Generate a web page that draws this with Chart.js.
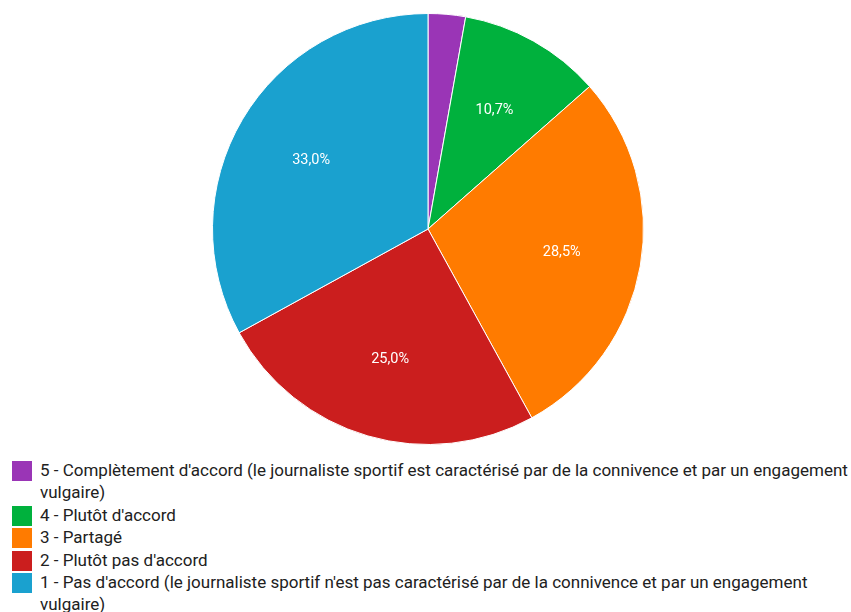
<!DOCTYPE html>
<html>
<head>
<meta charset="utf-8">
<script src="https://cdn.jsdelivr.net/npm/chart.js@4"></script>
<style>
    body { margin: 0; background: #fff; font-family: Roboto, sans-serif; }
    #wrap { position: relative; width: 851px; height: 612px; overflow: hidden; }
    #pieBox { position: absolute; left: 0; top: 0; width: 851px; height: 458px; }
    #legende { position: absolute; left: 12px; top: 459px; width: 839px; }
    .item { position: relative; padding-left: 28px; font-size: 17px; line-height: 22.4px; color: #212121; }
    .item .carre { position: absolute; left: 0; top: 2px; width: 20px; height: 20px; }
</style>
</head>
<body>
<div id="wrap">
    <div id="pieBox"><canvas id="chartAccord"></canvas></div>
    <div id="legende"></div>
</div>
<script>
// Réponses (en %), dans l'ordre du sens horaire depuis le haut
const categories = [
    "5 - Complètement d'accord (le journaliste sportif est caractérisé par de la connivence et par un engagement vulgaire)",
    "4 - Plutôt d'accord",
    "3 - Partagé",
    "2 - Plutôt pas d'accord",
    "1 - Pas d'accord (le journaliste sportif n'est pas caractérisé par de la connivence et par un engagement vulgaire)"
];
const pourcentages = [2.8, 10.7, 28.5, 25.0, 33.0];
const couleurs = ['#9a35b6', '#00b13d', '#ff7b00', '#cb1e1e', '#1aa1cf'];

// Étiquettes de pourcentage dans les parts
const etiquettesParts = {
    id: 'etiquettesParts',
    afterDatasetsDraw(chart) {
        const ctx = chart.ctx;
        const meta = chart.getDatasetMeta(0);
        const data = chart.data.datasets[0].data;
        ctx.save();
        ctx.fillStyle = '#ffffff';
        ctx.font = '14.5px Roboto';
        ctx.textAlign = 'center';
        ctx.textBaseline = 'middle';
        meta.data.forEach(function(arc, i) {
            if (data[i] < 5) return;
            const p = arc.getProps(['x', 'y', 'startAngle', 'endAngle', 'outerRadius'], true);
            const mid = (p.startAngle + p.endAngle) / 2;
            const r = p.outerRadius * 0.63;
            const texte = data[i].toFixed(1).replace('.', ',') + '%';
            ctx.fillText(texte, p.x + Math.cos(mid) * r, p.y + Math.sin(mid) * r);
        });
        ctx.restore();
    }
};

new Chart(document.getElementById('chartAccord'), {
    type: 'pie',
    data: {
        labels: categories,
        datasets: [{
            data: pourcentages,
            backgroundColor: couleurs,
            borderColor: '#ffffff',
            borderWidth: 1
        }]
    },
    options: {
        responsive: true,
        maintainAspectRatio: false,
        animation: false,
        layout: { padding: { top: 13, bottom: 13, left: 5, right: 0 } },
        plugins: {
            legend: { display: false },
            tooltip: { enabled: false }
        }
    },
    plugins: [etiquettesParts]
});

// Légende HTML (le texte peut passer à la ligne)
const legende = document.getElementById('legende');
categories.forEach(function(nom, i) {
    const div = document.createElement('div');
    div.className = 'item';
    div.innerHTML = '<span class="carre" style="background:' + couleurs[i] + '"></span>';
    div.appendChild(document.createTextNode(nom));
    legende.appendChild(div);
});
</script>
</body>
</html>
